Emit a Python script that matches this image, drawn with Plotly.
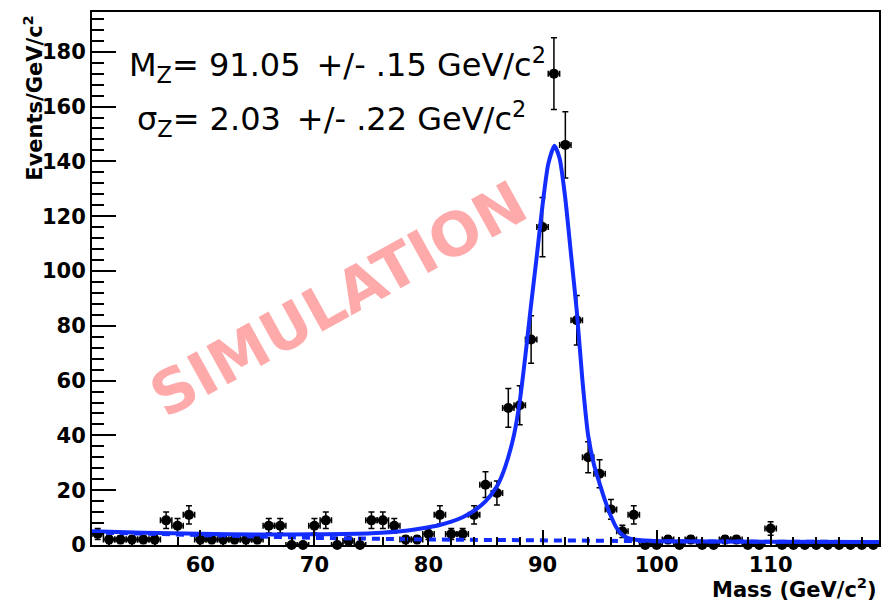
import numpy as np
import plotly.graph_objects as go

# Dimuon invariant mass histogram, 1 GeV bins
mass = list(range(51, 120))
events = [
    4, 2, 2, 2, 2, 2, 9, 7, 11, 2,      # 51-60
    2, 2, 2, 2, 2, 7, 7, 0, 0, 7,       # 61-70
    9, 0, 1.5, 0, 9, 9, 7, 2, 2, 4,     # 71-80
    11, 4, 4, 11, 22, 19, 50, 51, 75, 116,  # 81-90
    172, 146, 82, 32, 26, 13, 5, 11, 0, 0,  # 91-100
    2, 0, 2, 0, 0, 2, 2, 0, 0, 6,       # 101-110
    0, 0, 0, 0, 0, 0, 0, 0, 0,          # 111-119
]

# Fitted line shape (signal + background)
fit_x = [50.5, 55, 60, 65, 70, 75, 78, 80, 81, 82, 83, 84, 85, 86, 86.5,
         87, 87.5, 88, 88.5, 89, 89.5, 90, 90.5, 91.05, 91.5, 92, 92.5, 93,
         93.5, 94, 94.5, 95, 95.5, 96, 96.5, 97, 97.5, 98, 99, 100, 110,
         119.5]
fit_y = [5.0, 4.5, 4.1, 3.8, 3.9, 4.3, 5.2, 6.5, 7.3, 8.5, 10.1, 12.5,
         15.9, 21.4, 25.9, 32.1, 40.2, 52.3, 69.2, 87.8, 105.6, 124, 139,
         145.7, 141, 126.3, 106, 85.5, 60, 40, 29.5, 22.5, 16, 10.5, 6.2,
         3.7, 2.5, 2.0, 1.6, 1.4, 1.2, 1.1]
# Background-only component
bkg_x = [50.5, 60, 70, 80, 90, 100, 110, 119.5]
bkg_y = [4.6, 3.5, 2.6, 2.0, 1.6, 1.4, 1.2, 1.1]

# Fit results
SP = "\u2002"
fit_lines = [
    "M<sub>Z</sub>= 91.05" + SP + "+/- .15 GeV/c<sup>2</sup>",
    "σ<sub>Z</sub>= 2.03" + SP + "+/- .22 GeV/c<sup>2</sup>",
]

x_ticks = [60, 70, 80, 90, 100, 110]
y_ticks = [0, 20, 40, 60, 80, 100, 120, 140, 160, 180]

W, H = 891, 601
L, R, T, B = 92, 12, 10, 56
PW, PH = W - L - R, H - T - B


def px(xp):
    return (xp - L) / PW


def py(yp):
    return (H - B - yp) / PH


blue = "rgb(20,45,255)"
font_b = dict(family="DejaVu Sans", size=21, color="black", weight="bold")
font_t = dict(family="DejaVu Sans", size=32, color="black")

fig = go.Figure()

fig.add_trace(go.Scatter(
    x=mass, y=events, mode="markers",
    marker=dict(color="black", size=10, symbol="circle"),
    error_y=dict(type="data", array=list(np.sqrt(events)), color="black",
                 thickness=1.5, width=3),
    error_x=dict(type="constant", value=0.5, color="black",
                 thickness=1.5, width=3),
    cliponaxis=False, showlegend=False,
))

fig.add_trace(go.Scatter(
    x=bkg_x, y=bkg_y, mode="lines",
    line=dict(color=blue, width=4, dash="8px,6px"),
    showlegend=False,
))

fig.add_trace(go.Scatter(
    x=fit_x, y=fit_y, mode="lines",
    line=dict(color=blue, width=4, shape="spline", smoothing=0.6),
    showlegend=False,
))

fig.update_layout(
    width=W, height=H,
    margin=dict(l=L, r=R, t=T, b=B),
    paper_bgcolor="white", plot_bgcolor="white",
    xaxis=dict(
        range=[50.5, 119.5], tickvals=x_ticks, ticks="inside", ticklen=15,
        tickwidth=2, tickcolor="black", showline=True, linecolor="black",
        linewidth=2, mirror=True, showgrid=False, zeroline=False,
        tickfont=font_b,
        minor=dict(dtick=2, tick0=50, ticks="inside", ticklen=8,
                   tickwidth=2, tickcolor="black", showgrid=False),
    ),
    yaxis=dict(
        range=[0, 194.5], tickvals=y_ticks, ticks="inside", ticklen=24,
        tickwidth=2, tickcolor="black", showline=True, linecolor="black",
        linewidth=2, mirror=True, showgrid=False, zeroline=False,
        tickfont=font_b,
        minor=dict(dtick=4, tick0=0, ticks="inside", ticklen=12,
                   tickwidth=2, tickcolor="black", showgrid=False),
    ),
)

fig.add_annotation(
    text="SIMULATION", xref="paper", yref="paper",
    x=px(338), y=py(298), xanchor="center", yanchor="middle",
    textangle=-29, showarrow=False,
    font=dict(family="DejaVu Sans", size=60, color="#ffaaaa", weight="bold"),
)

for text, (xl, yc) in zip(fit_lines, [(127, 63), (135, 117)]):
    fig.add_annotation(
        text=text, xref="paper", yref="paper", x=px(xl), y=py(yc),
        xanchor="left", yanchor="middle", showarrow=False, font=font_t,
    )

fig.add_annotation(
    text="Events/GeV/c<sup>2</sup>", xref="paper", yref="paper",
    x=px(33), y=py(96), xanchor="center", yanchor="middle",
    textangle=-90, showarrow=False, font=font_b,
)
fig.add_annotation(
    text="Mass (GeV/c<sup>2</sup>)", xref="paper", yref="paper",
    x=px(879), y=py(588), xanchor="right", yanchor="middle",
    showarrow=False, font=font_b,
)

fig.write_html("out.html")
